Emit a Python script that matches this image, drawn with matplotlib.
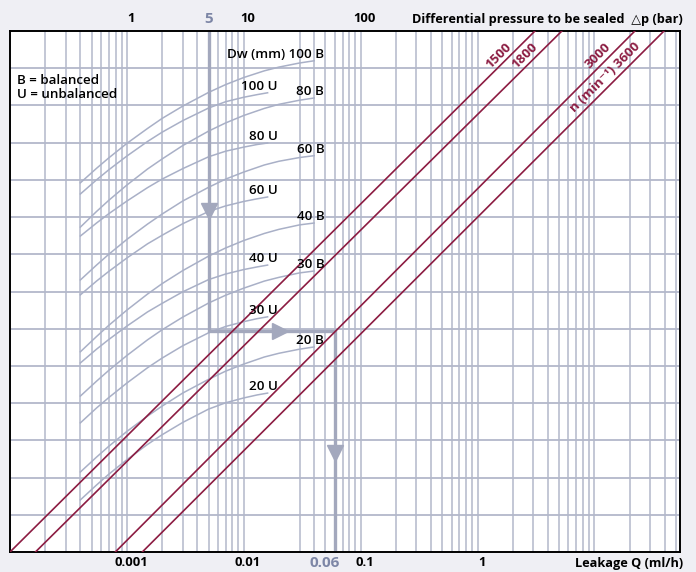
import numpy as np
import matplotlib
matplotlib.use("Agg")
import matplotlib.pyplot as plt

plt.rcParams['font.family'] = ['Open Sans', 'DejaVu Sans']

# ---------------- data ----------------
# Dw curves: differential pressure (bar) -> nomogram ordinate (grid units)
P_B = [0.4, 0.55, 0.7, 1, 1.5, 2, 3, 5, 7, 10, 15, 20, 30, 40]
P_U = [0.4, 0.55, 0.7, 1, 1.5, 2, 3, 5, 7, 10, 13, 16]

CURVE_LABELS = ["100 B", "100 U", "80 B", "80 U", "60 B", "60 U",
                "40 B", "40 U", "30 B", "30 U", "20 B", "20 U"]
Y_100B = [9.92, 10.31, 10.59, 10.98, 11.38, 11.65, 11.98, 12.35, 12.56, 12.75, 12.93, 13.03, 13.14, 13.20]
Y_100U = [9.62, 10.00, 10.27, 10.64, 11.03, 11.28, 11.59, 11.93, 12.10, 12.22, 12.29, 12.34]
Y_80B = [8.73, 9.15, 9.45, 9.86, 10.29, 10.56, 10.92, 11.31, 11.53, 11.73, 11.92, 12.03, 12.14, 12.20]
Y_80U = [8.49, 8.84, 9.09, 9.43, 9.79, 10.02, 10.30, 10.62, 10.77, 10.88, 10.95, 10.99]
Y_60B = [7.31, 7.71, 8.00, 8.40, 8.81, 9.08, 9.43, 9.80, 10.02, 10.21, 10.40, 10.50, 10.60, 10.65]
Y_60U = [6.91, 7.28, 7.54, 7.90, 8.28, 8.51, 8.82, 9.15, 9.30, 9.42, 9.49, 9.54]
Y_40B = [5.38, 5.79, 6.09, 6.50, 6.93, 7.21, 7.56, 7.95, 8.17, 8.37, 8.56, 8.67, 8.79, 8.84]
Y_40U = [5.08, 5.45, 5.71, 6.07, 6.45, 6.68, 6.99, 7.32, 7.47, 7.59, 7.66, 7.71]
Y_30B = [4.19, 4.59, 4.88, 5.28, 5.70, 5.97, 6.31, 6.69, 6.90, 7.09, 7.28, 7.38, 7.50, 7.55]
Y_30U = [3.47, 3.87, 4.15, 4.54, 4.95, 5.21, 5.54, 5.89, 6.06, 6.19, 6.27, 6.32]
Y_20B = [2.15, 2.55, 2.84, 3.24, 3.65, 3.92, 4.27, 4.64, 4.86, 5.05, 5.24, 5.34, 5.45, 5.51]
Y_20U = [1.40, 1.80, 2.09, 2.48, 2.89, 3.15, 3.48, 3.84, 4.01, 4.14, 4.22, 4.27]

# speed lines n (min^-1): leakage Q (ml/h) at bottom (y=0) and top (y=14)
SPEEDS = ["1500", "1800", "3000", "n (min\u207b\u00b9) 3600"]
Q_BOTTOM = [1.0e-4, 1.65e-4, 7.96e-4, 1.355e-3]
Q_TOP = [3.10, 5.27, 22.2, 39.4]

# example reading
P_EXAMPLE = 5       # bar
Y_EXAMPLE = 5.94    # grid units
Q_EXAMPLE = 0.06    # ml/h

TOP_TICKS = [1, 5, 10, 100]                 # bar
BOTTOM_TICKS = [0.001, 0.01, 0.06, 0.1, 1]  # ml/h
BAR_TO_Q = 1e-3  # nomogram: top scale position = bottom scale * 1000

# ---------------- style ----------------
GRID = '#b3b8ca'
CURVE = '#a9b0c7'
ARROW = '#a3a8bd'
RED = '#8c1c42'
HILITE = '#7d86a6'
BG = '#efeff4'

fig = plt.figure(figsize=(6.96, 5.72), dpi=100, facecolor=BG)
ax = fig.add_axes([10/696, 20/572, 670/696, 521/572])
ax.set_facecolor('white')
ax.set_xscale('log')
ax.set_xlim(1e-4, 54)
ax.set_ylim(0, 14)

# grid
for d in range(-4, 2):
    for k in range(1, 10):
        v = k * 10.0 ** d
        if v <= 1e-4 or v >= 54:
            continue
        if d == -2 and k == 2:
            continue
        ax.axvline(v, color=GRID, lw=1.1, zorder=1)
for yv in range(1, 14):
    ax.axhline(yv, color=GRID, lw=1.3, zorder=1)

ax.set_xticks([])
ax.set_yticks([])
ax.minorticks_off()
for s in ax.spines.values():
    s.set_linewidth(1.4)
    s.set_color('black')

# curves
curves = [(P_B, Y_100B), (P_U, Y_100U), (P_B, Y_80B), (P_U, Y_80U),
          (P_B, Y_60B), (P_U, Y_60U), (P_B, Y_40B), (P_U, Y_40U),
          (P_B, Y_30B), (P_U, Y_30U), (P_B, Y_20B), (P_U, Y_20U)]
for lab, (pp, yy) in zip(CURVE_LABELS, curves):
    q = np.array(pp) * BAR_TO_Q
    ax.plot(q, yy, color=CURVE, lw=1.1, zorder=2, solid_joinstyle='round')
    txt = ("Dw (mm) " + lab) if lab == "100 B" else lab
    ax.annotate(txt, xy=(q[-1], yy[-1]), xytext=(10, 6.5),
                textcoords='offset pixels', ha='right', va='center',
                fontsize=9.6, fontweight='semibold', color='black', zorder=5)

# speed lines
for lab, qb, qt in zip(SPEEDS, Q_BOTTOM, Q_TOP):
    ax.plot([qb, qt], [0, 14], color=RED, lw=1.2, zorder=3)

# labels of speed lines (placed along the line near its top)
lab_frac = [0.962, 0.962, 0.962, 0.962]
for lab, qb, qt, f in zip(SPEEDS, Q_BOTTOM, Q_TOP, lab_frac):
    xq = 10 ** (np.log10(qb) + f * (np.log10(qt) - np.log10(qb)))
    yq = 14 * f
    ax.annotate(lab, xy=(xq, yq), xytext=(-1.5, 1.5), textcoords='offset pixels',
                rotation=44.8, rotation_mode='anchor', ha='right', va='bottom',
                fontsize=9.6, fontweight='bold', color=RED, zorder=5)

# example arrows
qe = P_EXAMPLE * BAR_TO_Q
ax.plot([qe, qe, Q_EXAMPLE, Q_EXAMPLE], [14, Y_EXAMPLE, Y_EXAMPLE, 0],
        color=ARROW, lw=2.4, zorder=2, solid_joinstyle='miter')
ax.plot([qe], [Y_EXAMPLE + 0.40 * (14 - Y_EXAMPLE)], marker='v', ms=11,
        color=ARROW, mec=ARROW, zorder=2)
ax.plot([10 ** (np.log10(qe) + 0.57 * (np.log10(Q_EXAMPLE) - np.log10(qe)))],
        [Y_EXAMPLE], marker='>', ms=11, color=ARROW, mec=ARROW, zorder=2)
ax.plot([Q_EXAMPLE], [0.45 * Y_EXAMPLE], marker='v', ms=11,
        color=ARROW, mec=ARROW, zorder=2)

# legend text
ax.text(0.011, 0.8916, "B = balanced\nU = unbalanced", transform=ax.transAxes,
        ha='left', va='center', fontsize=9.6, fontweight='semibold',
        linespacing=1.05)

# top scale labels
for t in TOP_TICKS:
    hl = (t == P_EXAMPLE)
    ax.annotate(str(t), xy=(t * BAR_TO_Q, 1), xycoords=('data', 'axes fraction'),
                xytext=(0 if hl else 4, 12), textcoords='offset pixels', ha='center',
                va='center', fontsize=11 if hl else 9.4, fontweight='bold',
                color=HILITE if hl else 'black', annotation_clip=False)
ax.annotate("Differential pressure to be sealed  \u25b3p (bar)", xy=(1, 1),
            xycoords='axes fraction', xytext=(3, 12), textcoords='offset pixels',
            ha='right', va='center', fontsize=9.2, fontweight='bold',
            family=['Open Sans', 'DejaVu Sans'], annotation_clip=False)

# bottom scale labels
for t in BOTTOM_TICKS:
    hl = (t == Q_EXAMPLE)
    s = ("%g" % t)
    ax.annotate(s, xy=(t, 0), xycoords=('data', 'axes fraction'),
                xytext=(-10 if hl else 4, -11), textcoords='offset pixels',
                ha='center', va='center', fontsize=11 if hl else 9.4,
                fontweight='bold', color=HILITE if hl else 'black',
                annotation_clip=False)
ax.annotate("Leakage Q (ml/h)", xy=(1, 0), xycoords='axes fraction',
            xytext=(3, -11), textcoords='offset pixels', ha='right',
            va='center', fontsize=9.2, fontweight='bold', annotation_clip=False)

fig.savefig("out.png", dpi=100, facecolor=BG)
